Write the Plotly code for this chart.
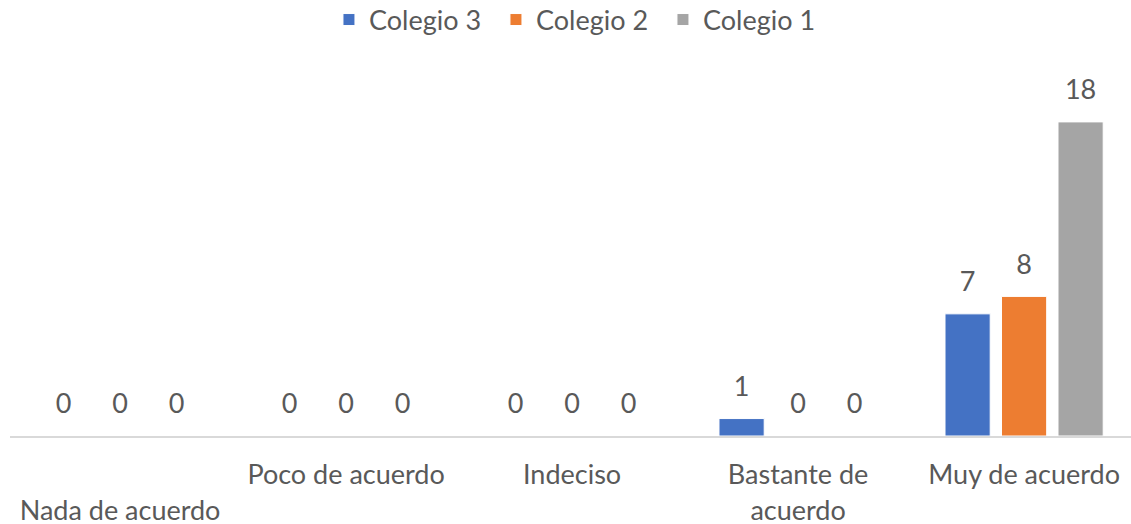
import plotly.graph_objects as go

categories = ["Nada de acuerdo", "Poco de acuerdo", "Indeciso", "Bastante de acuerdo", "Muy de acuerdo"]
tick_labels = ["<br>Nada de acuerdo", "Poco de acuerdo", "Indeciso", "Bastante de<br>acuerdo", "Muy de acuerdo"]
colegio3 = [0, 0, 0, 1, 7]
colegio2 = [0, 0, 0, 0, 8]
colegio1 = [0, 0, 0, 0, 18]

series = [("Colegio 3", colegio3, "#4472C4"), ("Colegio 2", colegio2, "#ED7D31"), ("Colegio 1", colegio1, "#A5A5A5")]
FONT = "Lato, Calibri, sans-serif"
TXT = "#595959"

fig = go.Figure()
xs = list(range(len(categories)))
for name, vals, color in series:
    fig.add_trace(go.Bar(
        x=xs, y=vals, name=name,
        marker=dict(color=color, line=dict(color="white", width=1)),
    ))
for name, vals, color in series:
    fig.add_trace(go.Scatter(
        x=xs, y=vals, name=name, showlegend=False, mode="markers+text",
        marker=dict(size=24, opacity=0),
        text=[str(v) for v in vals], textposition="top center",
        textfont=dict(family=FONT, size=27, color=TXT),
        cliponaxis=False, hoverinfo="skip",
    ))

fig.update_layout(
    width=1131, height=524,
    margin=dict(l=10, r=0, t=87, b=88, autoexpand=False),
    paper_bgcolor="white", plot_bgcolor="white",
    barmode="group", bargap=0.25, bargroupgap=0.2,
    scattermode="group", scattergap=0.25,
    font=dict(family=FONT, size=27, color=TXT),
    legend=dict(orientation="h", x=0.508, xanchor="center", y=1.192, yanchor="middle",
                entrywidth=122, entrywidthmode="pixels",
                font=dict(family=FONT, size=27, color=TXT), traceorder="normal"),
    xaxis=dict(tickmode="array", tickvals=xs, ticktext=tick_labels, automargin=False,
               range=[-0.487, 4.473], showline=True, linecolor="#D9D9D9", linewidth=2,
               showgrid=False, ticks="", zeroline=False, ticklabelstandoff=14,
               tickfont=dict(family=FONT, size=27, color=TXT)),
    yaxis=dict(range=[0, 20], visible=False, showgrid=False, zeroline=False),
)
fig.write_html("out.html", post_script="document.body.style.margin='0';",
               config={"displayModeBar": False})
